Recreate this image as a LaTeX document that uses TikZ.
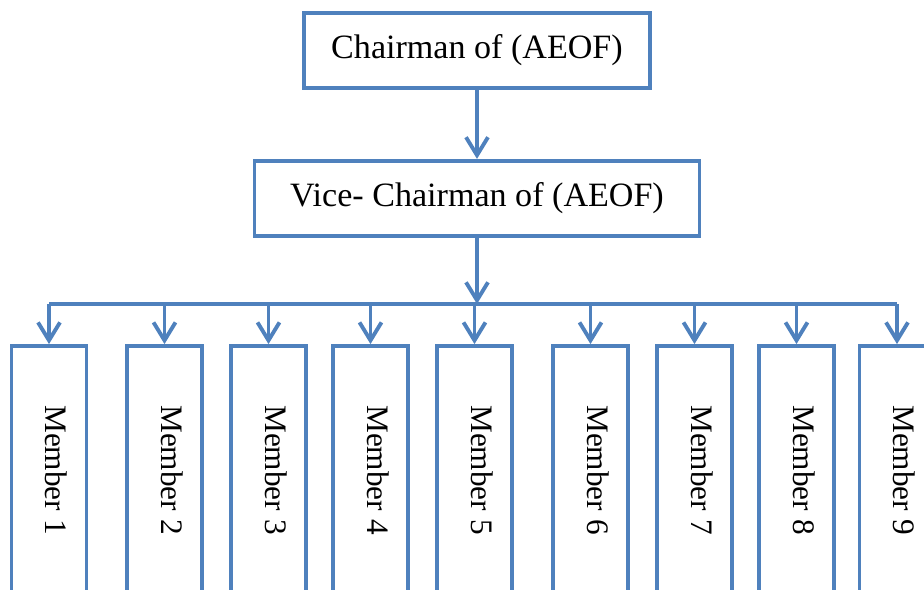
\documentclass[tikz,border=0pt]{standalone}
\usepackage{fontspec}
\setmainfont{Liberation Serif}
\usetikzlibrary{arrows.meta, positioning}
\definecolor{orgblue}{RGB}{79, 129, 189}
\newcommand{\memtext}[1]{\rotatebox{-90}{\raisebox{0.3cm}{#1}}}

\begin{document}
\begin{tikzpicture}[x=0.02cm, y=-0.02cm,
    box/.style={draw=orgblue, line width=2.2pt, minimum height=1.5cm,
                font=\fontsize{19.4}{23}\selectfont, inner sep=0pt},
    member/.style={draw=orgblue, line width=2.2pt, minimum width=1.5cm,
                   minimum height=4.96cm, inner sep=0pt,
                   font=\fontsize{17.8}{21}\selectfont},
    link/.style={orgblue, line width=2.2pt},
    arr/.style={-{Straight Barb[length=0.36cm, width=0.44cm]}, orgblue, line width=2.2pt}
  ]
    \clip (0,0) rectangle (924,590);
    \node[box, minimum width=6.92cm] (chair) at (477,50.5) {Chairman of (AEOF)};
    \node[box, minimum width=8.9cm, below=1.38cm of chair] (vice) {Vice- Chairman of (AEOF)};
    \coordinate (bus) at (477,304);
    % members
    \node[member] (m1) at (49,470) {\memtext{Member 1}};
    \node[member] (m2) at (164.5,470) {\memtext{Member 2}};
    \node[member] (m3) at (268.5,470) {\memtext{Member 3}};
    \node[member] (m4) at (370.5,470) {\memtext{Member 4}};
    \node[member] (m5) at (474.5,470) {\memtext{Member 5}};
    \node[member] (m6) at (590.5,470) {\memtext{Member 6}};
    \node[member] (m7) at (694.5,470) {\memtext{Member 7}};
    \node[member] (m8) at (796.5,470) {\memtext{Member 8}};
    \node[member] (m9) at (897,470) {\memtext{Member 9}};
    \draw[arr] (chair) -- (vice);
    \draw[arr] (vice) -- (bus);
    \draw[link] (m1.north |- bus) -- (m9.north |- bus);
    \draw[arr] (m1.north |- bus) -- (m1);
    \draw[arr] (m2.north |- bus) -- (m2);
    \draw[arr] (m3.north |- bus) -- (m3);
    \draw[arr] (m4.north |- bus) -- (m4);
    \draw[arr] (m5.north |- bus) -- (m5);
    \draw[arr] (m6.north |- bus) -- (m6);
    \draw[arr] (m7.north |- bus) -- (m7);
    \draw[arr] (m8.north |- bus) -- (m8);
    \draw[arr] (m9.north |- bus) -- (m9);
  \end{tikzpicture}
\end{document}
